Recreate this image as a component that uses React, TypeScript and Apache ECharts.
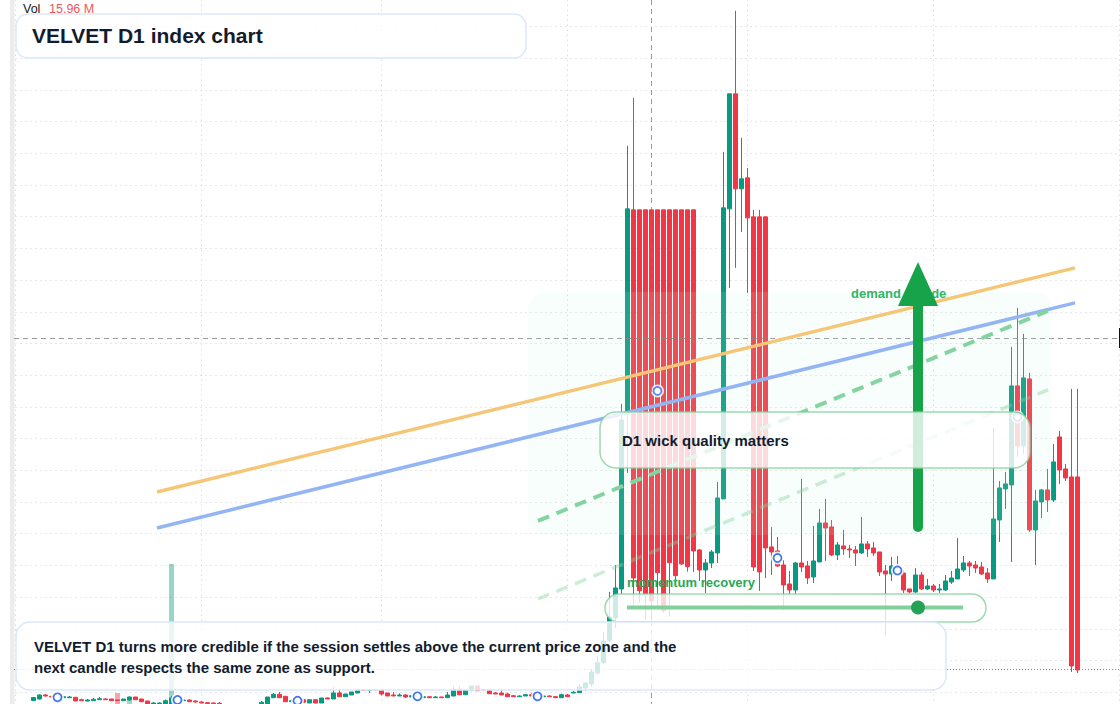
import React, { useEffect, useRef } from 'react';
import * as echarts from 'echarts';

const FONT = '"Liberation Sans", Arial, sans-serif';
const UP = '#089981';
const DOWN = '#F23645';

// one entry per trading day, the first candle sits on day 3
const categories: string[] = [];
for (let i = 0; i <= 184; i++) {
  categories.push(new Date(Date.UTC(2024, 2, 1 + i)).toISOString().slice(0, 10));
}
const monthStarts = [0, 31, 61, 92, 122, 153, 184];
const firstCandle = 3;

// open, close, low, high
const candles: number[][] = [
  [23.5, 26.5, 23, 27], [25, 29, 24.5, 29.5], [29, 28, 27.5, 30], [27.7, 27, 27, 27.7], [27, 26, 25.5, 27.5],
  [26.3, 27.3, 26, 28], [26.3, 27, 26, 28], [26.7, 23, 23, 26.7], [24.3, 23.3, 23, 25.3], [23, 24, 22.5, 25],
  [23.3, 24.7, 23, 26], [24.3, 25.3, 24, 27], [25, 24.3, 24, 26], [25, 23.3, 23, 25], [24, 23.5, 23, 24.5],
  [23.3, 25, 23, 25], [24, 27, 23.5, 27.5], [27, 24.3, 24, 27], [25, 22.3, 22, 25], [23, 20, 19, 23],
  [19, 21, 18, 22], [19, 21, 18, 21.5], [19, 23.3, 18, 24.5], [20, 26, 19, 28], [24.5, 23, 22, 25],
  [23.3, 24, 23, 24.5], [24, 22.3, 22, 24.5], [23, 22, 21.5, 23.5], [22, 21, 21, 22.5], [21.3, 20.3, 20, 22],
  [21, 20.3, 20, 21.5], [20.7, 20, 19.5, 22], [19, 18, 17, 19.5], [18, 16, 15, 18.5], [16, 17, 15, 18],
  [17, 15, 14, 18], [15, 17, 14, 18], [17, 18, 16, 19], [19, 21.7, 18, 23], [20, 27, 19, 27],
  [26.3, 29.7, 26, 31], [29.7, 26.3, 26, 32], [27.7, 22.3, 22, 28], [22.3, 23.3, 22, 25], [23.5, 23, 22, 24],
  [24.3, 21.7, 21, 25], [21, 24.3, 21, 24.3], [24.3, 21, 21, 25], [21, 26, 21, 26], [26, 25, 25, 26.5],
  [25, 31, 25, 37], [31, 27.3, 27, 34.3], [27.3, 30, 27, 30], [29, 32, 29, 32], [31, 34, 31, 35],
  [34, 33.5, 33, 34.5], [33.5, 34, 31, 35], [34.5, 34, 33.5, 35], [34, 30, 28.5, 35], [31, 28, 28, 31],
  [29, 28, 28, 32], [28, 29, 28, 30.7], [29, 27, 26, 30], [27, 28.3, 27, 29], [28, 27.5, 27, 28.5],
  [26.3, 27.3, 26, 28], [27.3, 26.3, 26, 27.5], [26.3, 27, 26, 28], [27, 26.3, 26, 27.3], [26.3, 29, 26, 32],
  [28, 34, 28, 38], [34, 29.3, 29, 38], [29.3, 34, 29, 34], [34, 38, 34, 38], [38, 33.3, 33, 38],
  [34.7, 34, 33.5, 35], [34, 30.3, 30, 35], [31, 30, 30, 32], [31, 29, 29, 34], [30, 27.3, 27, 31.3],
  [28.3, 27.3, 27, 29], [27.3, 28, 27, 28.7], [28, 29.3, 28, 30], [29.3, 28, 28, 31], [27.5, 28.5, 27, 29],
  [27.3, 28, 27, 28.5], [28, 27.3, 27, 28.7], [27.3, 26.3, 26, 28], [26.3, 29.3, 26, 30.3], [29, 27.3, 27, 30],
  [31, 31.7, 31, 33], [31.3, 37, 31, 40], [36, 41, 33, 42], [40, 52, 37, 55], [51, 61.3, 49, 68],
  [61.3, 83, 60, 92], [83.3, 107, 82, 132], [106, 136, 96, 159], [135, 304, 130, 320], [313, 515, 251, 578],
  [514, 146, 119, 626], [514, 133.3, 121, 514], [514, 130, 104, 514], [514, 123, 103, 514], [514, 151.3, 117, 514],
  [514, 113.3, 111, 514], [514, 161.3, 107.3, 514], [514, 148.3, 139, 514], [514, 160, 159, 514], [514, 157.3, 152.3, 514],
  [514, 173, 152, 514], [174, 154, 143, 175], [154, 161, 131, 165], [161, 172, 156, 174], [171, 226, 161, 242],
  [225, 516, 225, 572], [515, 630, 436, 630], [630, 535, 456, 713], [535, 545, 492, 586], [546, 506, 431, 556],
  [507, 157, 153, 514], [507, 152, 133, 514], [507, 176, 146, 507], [177, 172, 149, 197], [173, 158, 157, 187],
  [159, 139, 114, 164], [140, 134, 130, 153], [134, 161, 130, 162], [161, 157, 152, 245], [158, 146, 140, 163],
  [147, 163, 141, 198], [162, 201, 162, 215], [201, 196, 163, 225], [197, 169, 168, 204], [169, 179, 164, 182],
  [178, 175, 169, 194], [175, 174, 166, 179], [174, 171, 158, 178], [171, 180, 170, 207], [180, 175, 167, 183],
  [176, 171, 168, 182], [172, 152, 148, 172], [153, 150, 89, 159], [150, 158, 143, 167], [157, 151, 149, 168],
  [151, 134, 131, 154], [135, 132, 131, 135], [132, 149, 131, 156], [149, 135, 134, 152], [135, 138, 134, 145],
  [138, 134, 132, 140], [134, 135, 131, 140], [134, 143, 133, 149], [142, 146, 140, 153], [145, 155, 145, 186],
  [154, 161, 152, 168], [161, 158, 148, 163], [159, 156, 151, 163], [157, 150, 149, 162], [151, 145, 141, 156],
  [145, 205, 145, 296], [204, 236, 182, 243], [235, 240, 215, 252], [239, 338, 162, 377], [338, 278, 267, 416],
  [278, 346, 270, 390], [345, 194, 192, 351], [194, 223, 159, 234], [222, 234, 206, 235], [234, 224, 212, 255],
  [224, 262, 222, 280], [287, 254, 240, 293], [255, 246, 243, 260], [247, 58, 52, 335], [247, 54, 51, 335],
];

// the few volume bars that reach into view
const volumeDays = [17, 19, 26];
const volumeValues = [31, 24, 160];
const volumeColors = ['rgba(242,54,69,0.45)', 'rgba(8,153,129,0.4)', 'rgba(8,153,129,0.42)'];

const markerDays = [7, 27, 47, 67, 87, 107, 127, 147, 167];
const markerValues = [26.7, 24, 23.3, 27.7, 27.7, 333, 166, 153.5, 307];

// trend lines, day (fractional) and price at both ends
const orangeLine = [[23.58, 232], [176.58, 456]];
const blueLine = [[23.58, 196], [176.58, 421]];
const greenDash = [[87.08, 203], [172.08, 413]];
const paleDash = [[87.08, 125], [172.08, 334]];

const panelText = (text: string, x: number, y: number, fontSize: number, fill: string, z: number) => ({
  type: 'text',
  x,
  y,
  z,
  style: { text, fontSize, fontWeight: 'bold', fontFamily: FONT, fill, verticalAlign: 'middle' },
});

const panel = (x: number, y: number, width: number, height: number, r: number, stroke: string, z: number) => ({
  type: 'rect',
  z,
  shape: { x, y, width, height, r },
  style: { fill: 'rgba(255,255,255,0.8)', stroke, lineWidth: 1.5 },
});

const trendSeries = (data: number[][], color: string, width: number, dash?: number[]) => ({
  type: 'line',
  xAxisIndex: 1,
  z: 4,
  data,
  symbol: 'none',
  silent: true,
  lineStyle: { color, width, type: dash || 'solid' },
});

const App: React.FC = () => {
  const chartRef = useRef<HTMLDivElement | null>(null);

  useEffect(() => {
    const chart = echarts.init(chartRef.current!, undefined, { renderer: 'svg' });

    const candleData: any[] = categories.map(() => '-');
    candles.forEach((c, i) => {
      candleData[firstCandle + i] = c;
    });

    const option: any = {
      animation: false,
      backgroundColor: '#ffffff',
      grid: { left: 15.5, right: 0.5, top: -5.3, bottom: -20, outerBoundsMode: 'none' },
      xAxis: [
        {
          type: 'category',
          data: categories,
          boundaryGap: false,
          axisLine: { show: false },
          axisTick: { show: false },
          axisLabel: { show: false },
          splitLine: {
            show: true,
            interval: (index: number) => monthStarts.includes(index),
            lineStyle: { color: '#cfcfcf', width: 1, type: [1, 4] },
          },
        },
        { type: 'value', min: 0, max: 184, show: false },
      ],
      yAxis: {
        type: 'value',
        min: 0,
        max: 729.1,
        interval: 31.7,
        axisLine: { show: false },
        axisTick: { show: false },
        axisLabel: { show: false },
        splitLine: { show: true, lineStyle: { color: '#cfcfcf', width: 1, type: [1, 4] } },
      },
      series: [
        {
          name: 'Vol',
          type: 'bar',
          z: 1,
          barWidth: 5,
          data: volumeDays.map((d, i) => ({
            value: [d, volumeValues[i]],
            itemStyle: { color: volumeColors[i] },
          })),
        },
        {
          name: 'VELVET D1',
          type: 'candlestick',
          z: 2,
          barWidth: 4,
          data: candleData,
          itemStyle: { color: UP, color0: DOWN, borderColor: UP, borderColor0: DOWN, borderWidth: 1 },
        },
        {
          type: 'scatter',
          z: 2,
          symbolSize: 13,
          silent: true,
          data: markerDays.map((d, i) => [d, markerValues[i]]),
          itemStyle: { color: '#ffffff', opacity: 0.85 },
        },
        {
          type: 'scatter',
          z: 2,
          symbolSize: 8,
          silent: true,
          data: markerDays.map((d, i) => [d, markerValues[i]]),
          itemStyle: { color: '#ffffff', borderColor: '#3f75f0', borderWidth: 1.7, opacity: 1 },
        },
        trendSeries(orangeLine, '#f6c677', 3.5),
        trendSeries(blueLine, '#94b5f3', 3.5),
        trendSeries(greenDash, '#84d3a0', 4, [12, 8]),
        trendSeries(paleDash, 'rgba(132,211,160,0.4)', 3.5, [12, 8]),
      ],
      graphic: {
        elements: [
          { type: 'rect', z: 0, shape: { x: 10, y: 0, width: 4.5, height: 704 }, style: { fill: '#ececec' } },
          {
            type: 'line',
            z: 3,
            shape: { x1: 651.5, y1: 0, x2: 651.5, y2: 704 },
            style: { stroke: 'rgba(120,120,120,0.75)', lineWidth: 1, lineDash: [5, 4] },
          },
          {
            type: 'line',
            z: 3,
            shape: { x1: 14, y1: 338.5, x2: 1120, y2: 338.5 },
            style: { stroke: 'rgba(120,120,120,0.75)', lineWidth: 1, lineDash: [5, 4] },
          },
          {
            type: 'line',
            z: 3,
            shape: { x1: 14, y1: 669.5, x2: 1120, y2: 669.5 },
            style: { stroke: 'rgba(242,54,69,0.85)', lineWidth: 1, lineDash: [1, 2] },
          },
          { type: 'rect', z: 3, shape: { x: 1119, y: 328, width: 1, height: 20 }, style: { fill: '#111111' } },
          {
            type: 'rect',
            z: 3,
            shape: { x: 528, y: 292, width: 524, height: 243, r: 18 },
            style: { fill: 'rgba(200,250,220,0.12)' },
          },
          panelText('demand upside', 851, 293, 13, '#34b363', 5),
          {
            type: 'line',
            z: 6,
            shape: { x1: 918, y1: 527, x2: 918, y2: 300 },
            style: { stroke: '#16a34a', lineWidth: 10, lineCap: 'round' },
          },
          {
            type: 'polygon',
            z: 6,
            shape: { points: [[898, 306], [938, 306], [918, 262]] },
            style: { fill: '#16a34a' },
          },
          panelText('momentum recovery', 627, 582, 13, '#27a955', 6),
          panel(605, 594, 381, 28, 14, 'rgba(134,208,155,0.8)', 7),
          {
            type: 'line',
            z: 8,
            shape: { x1: 627, y1: 607.5, x2: 963, y2: 607.5 },
            style: { stroke: '#82d09c', lineWidth: 4 },
          },
          { type: 'circle', z: 8, shape: { cx: 918, cy: 607.5, r: 7 }, style: { fill: '#26a254' } },
          panel(600, 412, 430, 56, 16, 'rgba(134,208,155,0.8)', 9),
          panelText('D1 wick quality matters', 622, 440.5, 15, '#111c2e', 9),
          panel(16, 622, 930, 68, 14, '#dbe7fa', 10),
          panelText(
            'VELVET D1 turns more credible if the session settles above the current price zone and the',
            34, 646.5, 15, '#111c2e', 10,
          ),
          panelText('next candle respects the same zone as support.', 34, 667, 15, '#111c2e', 10),
          {
            type: 'text',
            x: 23,
            y: 8.5,
            z: 10,
            style: { text: 'Vol', fontSize: 12.5, fontFamily: FONT, fill: '#131722', verticalAlign: 'middle' },
          },
          {
            type: 'text',
            x: 49,
            y: 8.5,
            z: 10,
            style: { text: '15.96 M', fontSize: 12.5, fontFamily: FONT, fill: '#f0565c', verticalAlign: 'middle' },
          },
          panel(16, 14, 510, 44, 12, '#dbe7fa', 10),
          panelText('VELVET D1 index chart', 32, 35, 21, '#111c2e', 11),
        ],
      },
    };

    chart.setOption(option);

    return () => {
      chart.dispose();
    };
  }, []);

  return <div ref={chartRef} style={{ position: 'absolute', left: 0, top: 0, width: 1120, height: 704 }} />;
};

export default App;
